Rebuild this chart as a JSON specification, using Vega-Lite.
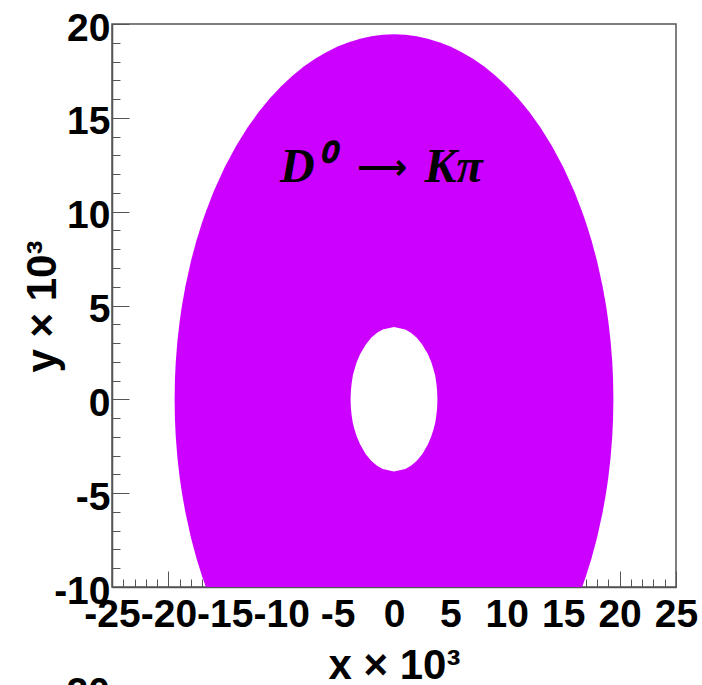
{
  "$schema": "https://vega.github.io/schema/vega-lite/v6.json",
  "width": 564,
  "height": 563,
  "autosize": {"type": "none"},
  "padding": {"left": 112, "top": 24, "right": 26, "bottom": 98},
  "background": "white",
  "config": {
    "view": {"stroke": "#555555", "strokeWidth": 1.5},
    "font": "Liberation Sans"
  },
  "datasets": {
    "outer": [
      {"x": -19.45, "ymax": 0, "ymin": 0},
      {"x": -19.42, "ymax": 1.077, "ymin": -1.077},
      {"x": -19.35, "ymax": 1.97, "ymin": -1.97},
      {"x": -19.2, "ymax": 3.108, "ymin": -3.108},
      {"x": -19.0, "ymax": 4.159, "ymin": -4.159},
      {"x": -18.8, "ymax": 4.986, "ymin": -4.986},
      {"x": -18.5, "ymax": 6.004, "ymin": -6.004},
      {"x": -18, "ymax": 7.369, "ymin": -7.369},
      {"x": -17.5, "ymax": 8.488, "ymin": -8.488},
      {"x": -17, "ymax": 9.45, "ymin": -9.45},
      {"x": -16.68, "ymax": 10.0, "ymin": -10},
      {"x": -16, "ymax": 11.059, "ymin": -10},
      {"x": -15, "ymax": 12.381, "ymin": -10},
      {"x": -14, "ymax": 13.502, "ymin": -10},
      {"x": -13, "ymax": 14.467, "ymin": -10},
      {"x": -12, "ymax": 15.307, "ymin": -10},
      {"x": -11, "ymax": 16.041, "ymin": -10},
      {"x": -10, "ymax": 16.682, "ymin": -10},
      {"x": -9, "ymax": 17.242, "ymin": -10},
      {"x": -8, "ymax": 17.729, "ymin": -10},
      {"x": -7, "ymax": 18.147, "ymin": -10},
      {"x": -6, "ymax": 18.501, "ymin": -10},
      {"x": -5, "ymax": 18.796, "ymin": -10},
      {"x": -4, "ymax": 19.034, "ymin": -10},
      {"x": -3, "ymax": 19.217, "ymin": -10},
      {"x": -2, "ymax": 19.347, "ymin": -10},
      {"x": -1, "ymax": 19.424, "ymin": -10},
      {"x": 0, "ymax": 19.45, "ymin": -10},
      {"x": 1, "ymax": 19.424, "ymin": -10},
      {"x": 2, "ymax": 19.347, "ymin": -10},
      {"x": 3, "ymax": 19.217, "ymin": -10},
      {"x": 4, "ymax": 19.034, "ymin": -10},
      {"x": 5, "ymax": 18.796, "ymin": -10},
      {"x": 6, "ymax": 18.501, "ymin": -10},
      {"x": 7, "ymax": 18.147, "ymin": -10},
      {"x": 8, "ymax": 17.729, "ymin": -10},
      {"x": 9, "ymax": 17.242, "ymin": -10},
      {"x": 10, "ymax": 16.682, "ymin": -10},
      {"x": 11, "ymax": 16.041, "ymin": -10},
      {"x": 12, "ymax": 15.307, "ymin": -10},
      {"x": 13, "ymax": 14.467, "ymin": -10},
      {"x": 14, "ymax": 13.502, "ymin": -10},
      {"x": 15, "ymax": 12.381, "ymin": -10},
      {"x": 16, "ymax": 11.059, "ymin": -10},
      {"x": 16.68, "ymax": 10.0, "ymin": -10},
      {"x": 17, "ymax": 9.45, "ymin": -9.45},
      {"x": 17.5, "ymax": 8.488, "ymin": -8.488},
      {"x": 18, "ymax": 7.369, "ymin": -7.369},
      {"x": 18.5, "ymax": 6.004, "ymin": -6.004},
      {"x": 18.8, "ymax": 4.986, "ymin": -4.986},
      {"x": 19.0, "ymax": 4.159, "ymin": -4.159},
      {"x": 19.2, "ymax": 3.108, "ymin": -3.108},
      {"x": 19.35, "ymax": 1.97, "ymin": -1.97},
      {"x": 19.42, "ymax": 1.077, "ymin": -1.077},
      {"x": 19.45, "ymax": 0, "ymin": 0}
    ],
    "inner": [
      {"x": -3.85, "ymax": 0, "ymin": 0},
      {"x": -3.82, "ymax": 0.477, "ymin": -0.477},
      {"x": -3.75, "ymax": 0.87, "ymin": -0.87},
      {"x": -3.65, "ymax": 1.264, "ymin": -1.264},
      {"x": -3.5, "ymax": 1.603, "ymin": -1.603},
      {"x": -3.3, "ymax": 1.983, "ymin": -1.983},
      {"x": -3.0, "ymax": 2.412, "ymin": -2.412},
      {"x": -2.5, "ymax": 2.927, "ymin": -2.927},
      {"x": -2.0, "ymax": 3.289, "ymin": -3.289},
      {"x": -1.5, "ymax": 3.545, "ymin": -3.545},
      {"x": -1.0, "ymax": 3.718, "ymin": -3.718},
      {"x": -0.5, "ymax": 3.784, "ymin": -3.784},
      {"x": 0, "ymax": 3.85, "ymin": -3.85},
      {"x": 0.5, "ymax": 3.784, "ymin": -3.784},
      {"x": 1.0, "ymax": 3.718, "ymin": -3.718},
      {"x": 1.5, "ymax": 3.545, "ymin": -3.545},
      {"x": 2.0, "ymax": 3.289, "ymin": -3.289},
      {"x": 2.5, "ymax": 2.927, "ymin": -2.927},
      {"x": 3.0, "ymax": 2.412, "ymin": -2.412},
      {"x": 3.3, "ymax": 1.983, "ymin": -1.983},
      {"x": 3.5, "ymax": 1.603, "ymin": -1.603},
      {"x": 3.65, "ymax": 1.264, "ymin": -1.264},
      {"x": 3.75, "ymax": 0.87, "ymin": -0.87},
      {"x": 3.82, "ymax": 0.477, "ymin": -0.477},
      {"x": 3.85, "ymax": 0, "ymin": 0}
    ]
  },
  "encoding": {
    "x": {
      "field": "x",
      "type": "quantitative",
      "scale": {"domain": [-25, 25], "nice": false, "zero": false},
      "axis": {
        "title": "x × 10³",
        "values": [-25,-24,-23,-22,-21,-20,-19,-18,-17,-16,-15,-14,-13,-12,-11,-10,-9,-8,-7,-6,-5,-4,-3,-2,-1,0,1,2,3,4,5,6,7,8,9,10,11,12,13,14,15,16,17,18,19,20,21,22,23,24,25],
        "labelExpr": "datum.value % 5 === 0 ? toString(datum.value) : ''",
        "labelFlush": false,
        "labelOverlap": false,
        "labelFont": "Liberation Sans",
        "labelFontWeight": "bold",
        "labelFontSize": 39,
        "labelColor": "black",
        "labelPadding": 24,
        "tickSize": {"condition": {"test": "datum.value % 5 === 0", "value": -16}, "value": -8},
        "tickColor": "#555555",
        "tickWidth": 1,
        "domainColor": "#555555",
        "domainWidth": 1.5,
        "grid": false,
        "titleFont": "Liberation Sans",
        "titleFontSize": 42,
        "titleFontWeight": "bold",
        "titleColor": "black",
        "titleBaseline": "alphabetic",
        "titleY": 91
      }
    },
    "y": {
      "field": "ymax",
      "type": "quantitative",
      "scale": {"domain": [-10, 20], "nice": false, "zero": false},
      "axis": {
        "title": "y × 10³",
        "values": [-10,-9,-8,-7,-6,-5,-4,-3,-2,-1,0,1,2,3,4,5,6,7,8,9,10,11,12,13,14,15,16,17,18,19,20],
        "labelExpr": "datum.value % 5 === 0 ? toString(datum.value) : ''",
        "labelFlush": false,
        "labelOverlap": false,
        "labelFont": "Liberation Sans",
        "labelFontWeight": "bold",
        "labelFontSize": 39,
        "labelColor": "black",
        "labelPadding": 19,
        "labelOffset": 4,
        "tickSize": {"condition": {"test": "datum.value % 5 === 0", "value": -17}, "value": -8},
        "tickColor": "#555555",
        "tickWidth": 1,
        "domainColor": "#555555",
        "domainWidth": 1.5,
        "grid": false,
        "titleFont": "Liberation Sans",
        "titleFontSize": 42,
        "titleFontWeight": "bold",
        "titleColor": "black",
        "titleAngle": -90,
        "titleBaseline": "alphabetic",
        "titleAlign": "center",
        "titleX": -57,
        "titleY": 282
      }
    }
  },
  "layer": [
    {
      "data": {"name": "outer"},
      "mark": {"type": "area", "color": "#cc00ff", "interpolate": "linear"},
      "encoding": {"y2": {"field": "ymin"}}
    },
    {
      "data": {"name": "inner"},
      "mark": {"type": "area", "color": "white", "interpolate": "linear"},
      "encoding": {"y2": {"field": "ymin"}}
    },
    {
      "data": {"values": [
        {"x": -10.1, "ymax": 11.58, "label": "D⁰", "part": "a"},
        {"x": 2.7, "ymax": 11.58, "label": "Kπ", "part": "b"}
      ]},
      "mark": {"type": "text", "font": "Liberation Serif", "fontStyle": "italic", "fontWeight": "bold", "fontSize": 48, "fill": "black", "align": "left", "baseline": "alphabetic"},
      "encoding": {
        "text": {"field": "label", "type": "nominal"}
      }
    },
    {
      "data": {"values": [{"x": -1.06, "ymax": 11.75, "label": "⟶"}]},
      "mark": {"type": "text", "font": "DejaVu Sans", "fontWeight": "bold", "fontSize": 35, "fill": "black", "align": "center", "baseline": "alphabetic"},
      "encoding": {
        "text": {"field": "label", "type": "nominal"}
      }
    },
    {
      "data": {"values": [{"x": -25.18, "ymax": -16.3, "label": "20"}]},
      "mark": {"type": "text", "font": "Liberation Sans", "fontWeight": "bold", "fontSize": 39, "fill": "black", "align": "right", "baseline": "alphabetic"},
      "encoding": {
        "text": {"field": "label", "type": "nominal"}
      }
    }
  ]
}
